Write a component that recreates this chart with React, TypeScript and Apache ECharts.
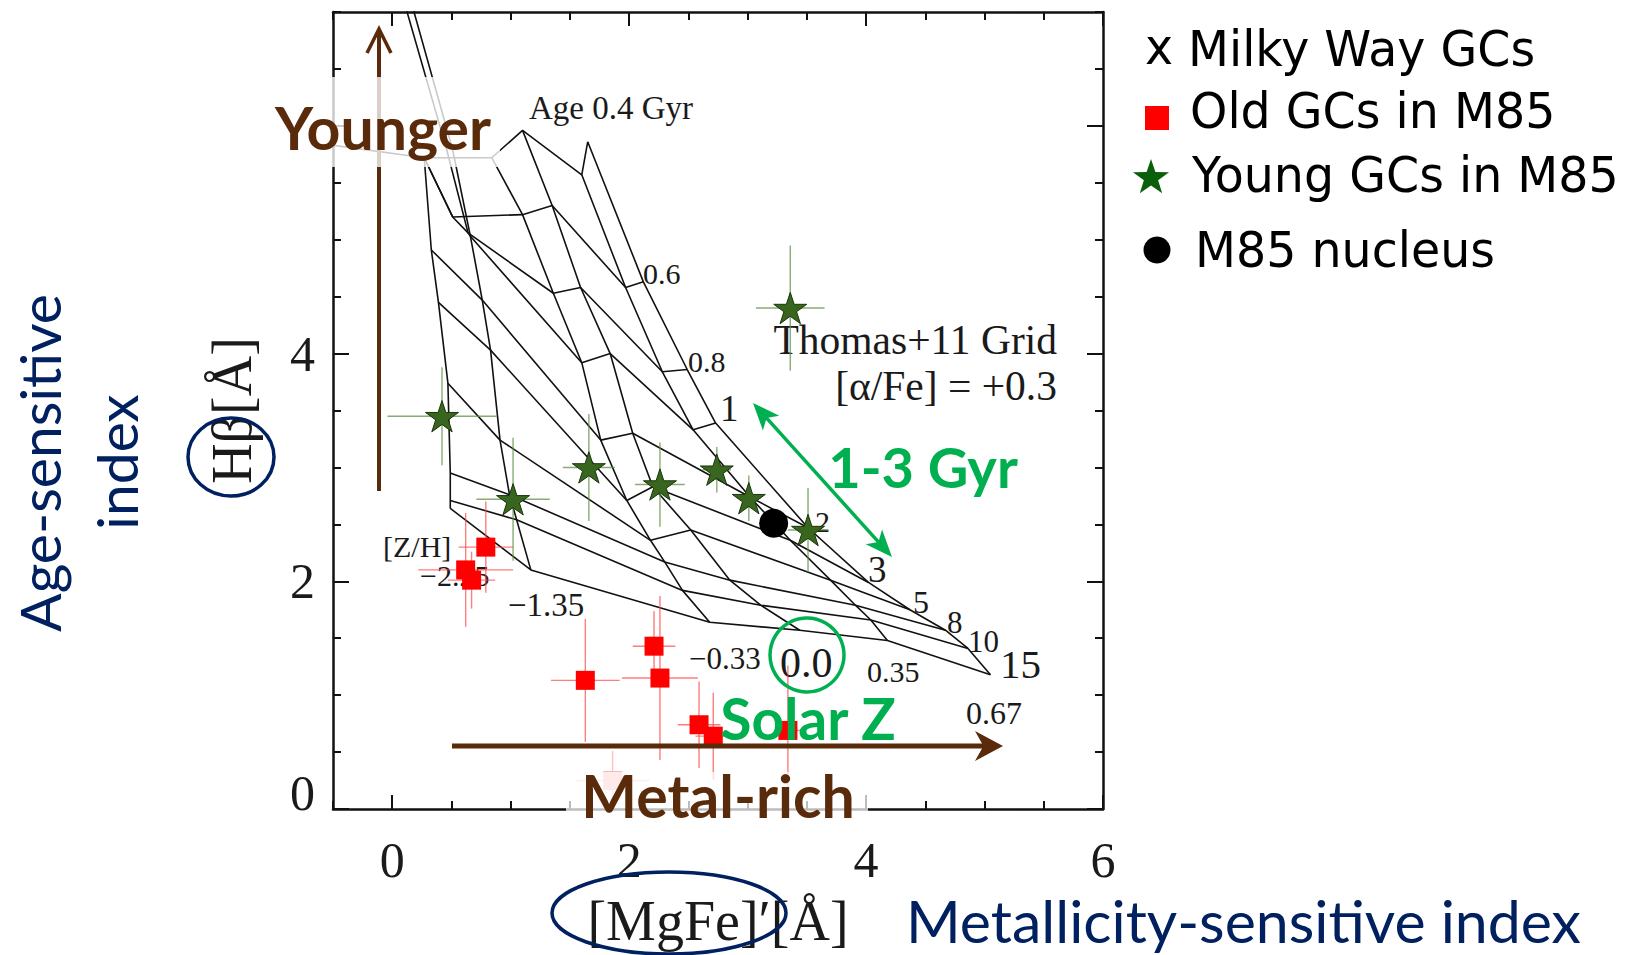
import React, { useEffect, useRef } from "react";
import * as echarts from "echarts";

// ---------------- axes ----------------
const X_MIN = -0.5;
const X_MAX = 6;
const Y_MIN = 0;
const Y_MAX = 7;
const xTickLabels = [0, 2, 4, 6];
const yTickLabels = [0, 2, 4];
const xMajorTicks = [0, 2, 4, 6];
const yMajorTicks = [0, 2, 4, 6];

// ---------------- Thomas+11 model grid ([MgFe]', Hβ) ----------------
// iso-metallicity tracks, young -> old
const isoZ_m225 = [[0.27, 5.72], [0.33, 4.91], [0.39, 4.45], [0.47, 3.74], [0.49, 2.95], [0.49, 2.71], [0.49, 2.64]];
const isoZ_m135 = [[0.27, 5.72], [0.51, 5.2], [0.64, 5.06], [0.66, 5.03], [0.76, 4.47], [0.83, 4.03], [0.91, 3.24], [0.99, 2.76], [1.05, 2.54], [1.17, 2.1]];
const isoZ_m033 = [[0.84, 5.72], [1.1, 5.22], [1.36, 4.53], [1.6, 3.92], [1.76, 3.24], [1.98, 2.71], [2.18, 2.36], [2.3, 2.17], [2.45, 1.92], [2.68, 1.64]];
const isoZ_p000 = [[1.1, 5.96], [1.35, 5.3], [1.59, 4.58], [1.84, 4.0], [2.03, 3.3], [2.2, 2.83], [2.52, 2.45], [2.85, 2.01], [3.11, 1.79], [3.44, 1.57]];
const isoZ_p035 = [[1.6, 5.57], [1.97, 4.58], [2.28, 3.84], [2.54, 3.33], [3.02, 2.74], [3.36, 2.36], [3.7, 2.01], [3.91, 1.79], [4.04, 1.66], [4.18, 1.48]];
const isoZ_p067 = [[1.65, 5.86], [2.12, 4.63], [2.49, 3.86], [2.73, 3.39], [3.51, 2.47], [4.02, 1.99], [4.37, 1.75], [4.67, 1.57], [4.86, 1.41], [5.05, 1.18]];

// iso-age tracks, metal-poor -> metal-rich
const isoAge_04 = [[-0.78, 5.87], [0.27, 5.72], [0.84, 5.72], [1.1, 5.96], [1.6, 5.57], [1.65, 5.86]];
const isoAge_06 = [[0.27, 5.72], [0.51, 5.2], [1.1, 5.22], [1.35, 5.3], [1.97, 4.58], [2.12, 4.63]];
const isoAge_08 = [[0.07, 7.2], [0.46, 5.79], [0.64, 5.06], [1.36, 4.53], [1.59, 4.58], [2.28, 3.84], [2.49, 3.86]];
const isoAge_1 = [[0.13, 7.2], [0.51, 5.79], [0.66, 5.03], [1.6, 3.92], [1.84, 4.0], [2.54, 3.33], [2.73, 3.39]];
const isoAge_2 = [[0.33, 4.91], [0.76, 4.47], [1.76, 3.24], [2.03, 3.3], [3.02, 2.74], [3.51, 2.47]];
const isoAge_3 = [[0.39, 4.45], [0.83, 4.03], [1.98, 2.71], [2.2, 2.83], [3.36, 2.36], [4.02, 1.99]];
const isoAge_5 = [[0.47, 3.74], [0.91, 3.24], [2.18, 2.36], [2.52, 2.45], [3.7, 2.01], [4.37, 1.75]];
const isoAge_8 = [[0.49, 2.95], [0.99, 2.76], [2.3, 2.17], [2.85, 2.01], [3.91, 1.79], [4.67, 1.57]];
const isoAge_10 = [[0.49, 2.71], [1.05, 2.54], [2.45, 1.92], [3.11, 1.79], [4.04, 1.66], [4.86, 1.41]];
const isoAge_15 = [[0.49, 2.64], [1.17, 2.1], [2.68, 1.64], [3.44, 1.57], [4.18, 1.48], [5.05, 1.18]];

// ---------------- Young GCs in M85 ----------------
const youngMgFe = [0.42, 1.02, 1.66, 2.26, 2.74, 3.01, 3.51, 3.36];
const youngHb = [3.45, 2.72, 3.0, 2.85, 2.98, 2.73, 2.45, 4.4];
const youngMgFeErr = [0.46, 0.31, 0.22, 0.21, 0.12, 0.1, 0.17, 0.29];
const youngHbErr = [0.43, 0.54, 0.47, 0.37, 0.2, 0.2, 0.37, 0.55];

// ---------------- Old GCs in M85 ----------------
const oldMgFe = [0.79, 0.62, 0.67, 2.21, 2.26, 1.63, 2.59, 2.71, 3.34];
const oldHb = [2.3, 2.1, 2.01, 1.43, 1.15, 1.13, 0.74, 0.64, 0.69];
const oldMgFeErr = [0.23, 0.4, 0.2, 0.18, 0.32, 0.29, 0.18, 0.15, 0.1];
const oldHbErr = [0.4, 0.5, 0.25, 0.31, 0.72, 0.54, 0.38, 0.38, 0.57];
// faint (low-quality) old GC
const faintMgFe = [1.86];
const faintHb = [0.25];
const faintMgFeErr = [0.31];
const faintHbErr = [0.26];

// ---------------- M85 nucleus ----------------
const nucleusMgFe = [3.22];
const nucleusHb = [2.51];

// ---------------- styling helpers ----------------
const SERIF = "'Liberation Serif', 'Times New Roman', serif";
const SANS = "Lato, 'Open Sans', sans-serif";
const LEGEND_FONT = "'DejaVu Sans', Verdana, sans-serif";
const BROWN = "#5a2b0b";
const GREEN = "#00b050";
const NAVY = "#002060";
const STAR_PATH =
  "path://M50,0 L61.2,34.5 L97.6,34.5 L68.2,55.9 L79.4,90.5 L50,69.1 L20.6,90.5 L31.8,55.9 L2.4,34.5 L38.8,34.5 Z";

function zip(xs: number[], ys: number[]) {
  return xs.map((x, i) => [x, ys[i]]);
}
function zip4(xs: number[], ys: number[], ex: number[], ey: number[]) {
  return xs.map((x, i) => [x, ys[i], ex[i], ey[i]]);
}

function T(text: string, x: number, y: number, size: number, o: any = {}) {
  const align = o.align ?? "left";
  return {
    type: "text",
    x,
    y,
    z: o.z ?? 1,
    rotation: o.rot ?? 0,
    scaleX: o.sx ?? 1,
    silent: true,
    style: {
      text,
      fill: o.color ?? "#1a1a1a",
      fontSize: size,
      lineHeight: size,
      fontFamily: o.family ?? SERIF,
      fontWeight: o.weight ?? "normal",
      align,
      textAlign: align,
      verticalAlign: "middle",
      textVerticalAlign: "middle",
    },
  };
}

function head(tx: number, ty: number, fx: number, fy: number, len: number, wid: number, notch = 0) {
  const dx = tx - fx;
  const dy = ty - fy;
  const d = Math.hypot(dx, dy);
  const ux = dx / d;
  const uy = dy / d;
  const nx = -uy;
  const ny = ux;
  const bx = tx - ux * len;
  const by = ty - uy * len;
  return [
    [tx, ty],
    [bx + (nx * wid) / 2, by + (ny * wid) / 2],
    [tx - ux * len * (1 - notch), ty - uy * len * (1 - notch)],
    [bx - (nx * wid) / 2, by - (ny * wid) / 2],
  ];
}

function starPts(cx: number, cy: number, R: number, r: number) {
  const pts: number[][] = [];
  for (let i = 0; i < 10; i++) {
    const a = -Math.PI / 2 + (i * Math.PI) / 5;
    const rr = i % 2 === 0 ? R : r;
    pts.push([cx + rr * Math.cos(a), cy + rr * Math.sin(a)]);
  }
  return pts;
}

const errorBars = (color: string, width: number) => (params: any, api: any) => {
  const x = api.value(0);
  const y = api.value(1);
  const ex = api.value(2);
  const ey = api.value(3);
  const l = api.coord([x - ex, y]);
  const r = api.coord([x + ex, y]);
  const t = api.coord([x, y + ey]);
  const b = api.coord([x, y - ey]);
  const style = { stroke: color, lineWidth: width, fill: "none" };
  return {
    type: "group",
    children: [
      { type: "line", shape: { x1: l[0], y1: l[1], x2: r[0], y2: r[1] }, style },
      { type: "line", shape: { x1: t[0], y1: t[1], x2: b[0], y2: b[1] }, style },
    ],
  };
};

function buildOption() {
  const tracks: [string, number[][]][] = [
    ["[Z/H]=-2.25", isoZ_m225],
    ["[Z/H]=-1.35", isoZ_m135],
    ["[Z/H]=-0.33", isoZ_m033],
    ["[Z/H]=0.0", isoZ_p000],
    ["[Z/H]=0.35", isoZ_p035],
    ["[Z/H]=0.67", isoZ_p067],
    ["Age 0.4 Gyr", isoAge_04],
    ["Age 0.6 Gyr", isoAge_06],
    ["Age 0.8 Gyr", isoAge_08],
    ["Age 1 Gyr", isoAge_1],
    ["Age 2 Gyr", isoAge_2],
    ["Age 3 Gyr", isoAge_3],
    ["Age 5 Gyr", isoAge_5],
    ["Age 8 Gyr", isoAge_8],
    ["Age 10 Gyr", isoAge_10],
    ["Age 15 Gyr", isoAge_15],
  ];

  const axisLineStyle = { color: "#111", width: 2.5 };
  const tickStyle = { color: "#111", width: 2 };

  const xBase = {
    type: "value",
    min: X_MIN,
    max: X_MAX,
    splitLine: { show: false },
  };
  const yBase = {
    type: "value",
    min: Y_MIN,
    max: Y_MAX,
    splitLine: { show: false },
  };

  const xAxis = [
    {
      ...xBase,
      position: "bottom",
      interval: 0.5,
      axisLine: { show: true, onZero: false, lineStyle: axisLineStyle },
      axisTick: { show: true, inside: true, length: 8, lineStyle: tickStyle },
      axisLabel: {
        show: true,
        margin: 26,
        color: "#1a1a1a",
        fontSize: 50,
        fontFamily: SERIF,
        formatter: (v: number) => (xTickLabels.includes(v) ? String(v) : ""),
      },
      name: "[MgFe]\u2032[\u00C5]",
      nameLocation: "middle",
      nameGap: 84,
      nameTextStyle: { fontSize: 56, fontFamily: SERIF, color: "#1a1a1a" },
    },
    {
      ...xBase,
      position: "bottom",
      axisLine: { show: false, onZero: false },
      axisTick: { show: true, inside: true, length: 14, customValues: xMajorTicks, lineStyle: tickStyle },
      axisLabel: { show: false },
    },
    {
      ...xBase,
      position: "top",
      interval: 0.5,
      axisLine: { show: true, onZero: false, lineStyle: axisLineStyle },
      axisTick: { show: true, inside: true, length: 8, lineStyle: tickStyle },
      axisLabel: { show: false },
    },
    {
      ...xBase,
      position: "top",
      axisLine: { show: false, onZero: false },
      axisTick: { show: true, inside: true, length: 14, customValues: xMajorTicks, lineStyle: tickStyle },
      axisLabel: { show: false },
    },
  ];

  const yAxis = [
    {
      ...yBase,
      position: "left",
      interval: 0.5,
      axisLine: { show: true, onZero: false, lineStyle: axisLineStyle },
      axisTick: { show: true, inside: true, length: 8, lineStyle: tickStyle },
      axisLabel: {
        show: true,
        margin: 18,
        color: "#1a1a1a",
        fontSize: 50,
        fontFamily: SERIF,
        formatter: (v: number) => (v === 0 ? "{lift|0}" : yTickLabels.includes(v) ? String(v) : ""),
        rich: {
          lift: { fontSize: 50, fontFamily: SERIF, color: "#1a1a1a", padding: [0, 0, 32, 0] },
        },
      },
      name: "H\u03B2[\u00C5]",
      nameLocation: "middle",
      nameGap: 73,
      nameRotate: 90,
      nameTextStyle: { fontSize: 56, fontFamily: SERIF, color: "#1a1a1a" },
    },
    {
      ...yBase,
      position: "left",
      axisLine: { show: false, onZero: false },
      axisTick: { show: true, inside: true, length: 16, customValues: yMajorTicks, lineStyle: tickStyle },
      axisLabel: { show: false },
    },
    {
      ...yBase,
      position: "right",
      interval: 0.5,
      axisLine: { show: true, onZero: false, lineStyle: axisLineStyle },
      axisTick: { show: true, inside: true, length: 8, lineStyle: tickStyle },
      axisLabel: { show: false },
    },
    {
      ...yBase,
      position: "right",
      axisLine: { show: false, onZero: false },
      axisTick: { show: true, inside: true, length: 16, customValues: yMajorTicks, lineStyle: tickStyle },
      axisLabel: { show: false },
    },
  ];

  const series: any[] = tracks.map(([name, data]) => ({
    type: "line",
    name: "Thomas+11 " + name,
    data,
    symbol: "none",
    showSymbol: false,
    clip: true,
    silent: true,
    z: 2,
    lineStyle: { color: "#111", width: 1.6 },
  }));

  series.push(
    {
      type: "custom",
      name: "Young GCs errors",
      data: zip4(youngMgFe, youngHb, youngMgFeErr, youngHbErr),
      renderItem: errorBars("rgba(95,145,70,0.75)", 1.4),
      encode: { x: 0, y: 1 },
      clip: true,
      silent: true,
      z: 3,
    },
    {
      type: "custom",
      name: "Old GCs errors",
      data: zip4(oldMgFe, oldHb, oldMgFeErr, oldHbErr),
      renderItem: errorBars("rgba(255,70,70,0.7)", 1.4),
      encode: { x: 0, y: 1 },
      clip: true,
      silent: true,
      z: 3,
    },
    {
      type: "custom",
      name: "Faint old GC errors",
      data: zip4(faintMgFe, faintHb, faintMgFeErr, faintHbErr),
      renderItem: errorBars("rgba(255,150,150,0.6)", 1.4),
      encode: { x: 0, y: 1 },
      clip: true,
      silent: true,
      z: 3,
    },
    {
      type: "scatter",
      name: "Old GCs in M85",
      data: zip(oldMgFe, oldHb),
      symbol: "rect",
      symbolSize: 19,
      itemStyle: { color: "#ff0000", opacity: 1 },
      z: 5,
    },
    {
      type: "scatter",
      name: "Faint old GC",
      data: zip(faintMgFe, faintHb),
      symbol: "rect",
      symbolSize: 19,
      itemStyle: { color: "#ffb3b3", opacity: 1 },
      z: 5,
    },
    {
      type: "scatter",
      name: "Young GCs in M85",
      data: zip(youngMgFe, youngHb),
      symbol: STAR_PATH,
      symbolSize: 33,
      symbolKeepAspect: true,
      itemStyle: { color: "#38661f", borderColor: "#1a360c", borderWidth: 1, opacity: 1 },
      z: 6,
    },
    {
      type: "scatter",
      name: "M85 nucleus",
      data: zip(nucleusMgFe, nucleusHb),
      symbol: "circle",
      symbolSize: 29,
      itemStyle: { color: "#000", opacity: 1 },
      z: 6,
    }
  );

  // ---------- annotations ----------
  const g: any[] = [];
  // grid labels (serif, beneath data)
  g.push(
    T("Age 0.4 Gyr", 529, 108, 33),
    T("0.6", 643, 273, 30),
    T("0.8", 688, 361, 30),
    T("1", 720, 408, 37),
    T("2", 815, 521, 30),
    T("3", 868, 569, 37),
    T("5", 913, 602, 32),
    T("8", 947, 622, 31),
    T("10", 968, 641, 31),
    T("15", 1000, 664, 41),
    T("Thomas+11 Grid", 1057, 340, 41.5, { align: "right" }),
    T("[\u03B1/Fe] = +0.3", 1057, 386, 41.5, { align: "right" }),
    T("[Z/H]", 383, 546, 30),
    T("\u22122.25", 420, 575, 30),
    T("\u22121.35", 508, 605, 33),
    T("\u22120.33", 689, 658, 31),
    T("0.0", 780, 663, 42),
    T("0.35", 867, 671, 30),
    T("0.67", 966, 713, 32)
  );

  // "Younger" arrow (under its translucent label box)
  g.push(
    { type: "line", z: 50, silent: true, shape: { x1: 379, y1: 491, x2: 379, y2: 31 }, style: { stroke: BROWN, lineWidth: 4 } },
    {
      type: "polyline",
      z: 50,
      silent: true,
      shape: { points: [[367, 53], [379, 29], [391, 53]] },
      style: { stroke: BROWN, lineWidth: 3.5, fill: "none" },
    },
    { type: "rect", z: 60, silent: true, shape: { x: 266, y: 77, width: 234, height: 90 }, style: { fill: "rgba(255,255,255,0.78)" } },
    T("Younger", 383, 127, 59, { z: 61, family: SANS, weight: "bold", color: BROWN, align: "center" })
  );

  // "Metal-rich" arrow
  g.push(
    { type: "line", z: 50, silent: true, shape: { x1: 452, y1: 746, x2: 990, y2: 746 }, style: { stroke: BROWN, lineWidth: 5 } },
    { type: "polygon", z: 50, silent: true, shape: { points: head(1003, 746, 452, 746, 28, 30, 0.3) }, style: { fill: BROWN } },
    { type: "rect", z: 60, silent: true, shape: { x: 566, y: 772, width: 302, height: 48 }, style: { fill: "rgba(255,255,255,0.72)" } },
    T("Metal-rich", 718, 795, 59, { z: 61, family: SANS, weight: "bold", color: BROWN, align: "center" })
  );

  // 1-3 Gyr double arrow
  {
    const ax = 753, ay = 403, bx = 892, by = 557;
    const d = Math.hypot(bx - ax, by - ay);
    const ux = (bx - ax) / d, uy = (by - ay) / d;
    g.push(
      {
        type: "line",
        z: 61,
        silent: true,
        shape: { x1: ax + ux * 15, y1: ay + uy * 15, x2: bx - ux * 15, y2: by - uy * 15 },
        style: { stroke: GREEN, lineWidth: 3.5 },
      },
      { type: "polygon", z: 61, silent: true, shape: { points: head(ax, ay, bx, by, 27, 22, 0.25) }, style: { fill: GREEN } },
      { type: "polygon", z: 61, silent: true, shape: { points: head(bx, by, ax, ay, 27, 22, 0.25) }, style: { fill: GREEN } }
    );
  }
  g.push(
    T("1-3 Gyr", 923, 466, 56, { z: 61, family: SANS, weight: "bold", color: GREEN, align: "center" }),
    T("Solar Z", 808, 718, 57, { z: 61, family: SANS, weight: "bold", color: GREEN, align: "center" }),
    { type: "circle", z: 61, silent: true, shape: { cx: 807, cy: 655, r: 37 }, style: { stroke: GREEN, lineWidth: 3.5, fill: "none" } }
  );

  // axis description texts
  g.push(
    T("Age-sensitive", 39, 463, 57, { z: 61, family: SANS, color: NAVY, align: "center", rot: Math.PI / 2 }),
    T("index", 116, 462, 57, { z: 61, family: SANS, color: NAVY, align: "center", rot: Math.PI / 2 }),
    T("Metallicity-sensitive index", 906, 920, 59, { z: 61, family: SANS, color: NAVY }),
    { type: "ellipse", z: 61, silent: true, shape: { cx: 231, cy: 457, rx: 43, ry: 39 }, style: { stroke: NAVY, lineWidth: 3.5, fill: "none" } },
    { type: "ellipse", z: 61, silent: true, shape: { cx: 669, cy: 913, rx: 117, ry: 41 }, style: { stroke: NAVY, lineWidth: 3.5, fill: "none" } }
  );

  // legend
  const LS = 0.95;
  g.push(
    T("x", 1145, 47, 50, { z: 61, family: LEGEND_FONT, color: "#000", sx: LS }),
    T("Milky Way GCs", 1188, 49, 50, { z: 61, family: LEGEND_FONT, color: "#000", sx: LS }),
    { type: "rect", z: 61, silent: true, shape: { x: 1145, y: 106, width: 24, height: 24 }, style: { fill: "#ff0000" } },
    T("Old GCs in M85", 1190, 111, 50, { z: 61, family: LEGEND_FONT, color: "#000", sx: LS }),
    { type: "polygon", z: 61, silent: true, shape: { points: starPts(1151, 178, 19, 7.5) }, style: { fill: "#0a600a" } },
    T("Young GCs in M85", 1192, 175, 50, { z: 61, family: LEGEND_FONT, color: "#000", sx: LS }),
    { type: "circle", z: 61, silent: true, shape: { cx: 1157, cy: 250, r: 13.5 }, style: { fill: "#000" } },
    T("M85 nucleus", 1195, 250, 50, { z: 61, family: LEGEND_FONT, color: "#000", sx: LS })
  );

  return {
    animation: false,
    backgroundColor: "#ffffff",
    grid: { left: 333, top: 12, width: 770, height: 797, containLabel: false, outerBoundsMode: "none" },
    xAxis,
    yAxis,
    series,
    graphic: { elements: g },
  };
}

export default function App() {
  const ref = useRef<HTMLDivElement>(null);
  useEffect(() => {
    const chart = echarts.init(ref.current!, null, { renderer: "svg" });
    chart.setOption(buildOption() as any);
    return () => chart.dispose();
  }, []);
  return (
    <div
      ref={ref}
      style={{ position: "absolute", left: 0, top: 0, width: 1637, height: 955, background: "#fff" }}
    />
  );
}
